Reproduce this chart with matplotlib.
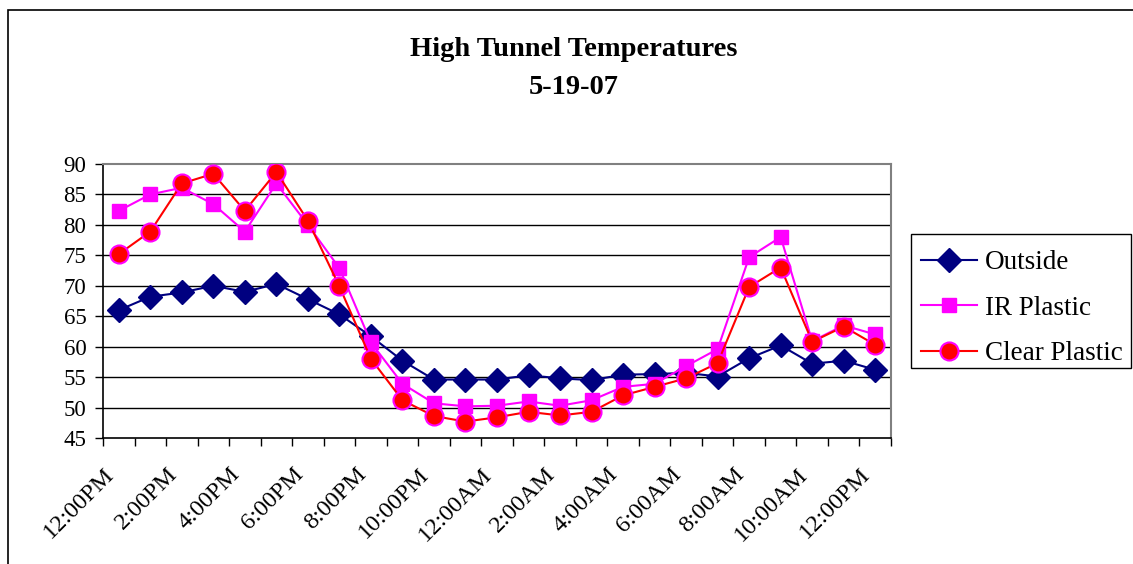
import matplotlib
matplotlib.use("Agg")
import matplotlib.pyplot as plt
from matplotlib.patches import Rectangle
import matplotlib.transforms as mtransforms
import numpy as np

categories = ["12:00PM", "1:00PM", "2:00PM", "3:00PM", "4:00PM", "5:00PM", "6:00PM",
              "7:00PM", "8:00PM", "9:00PM", "10:00PM", "11:00PM", "12:00AM", "1:00AM",
              "2:00AM", "3:00AM", "4:00AM", "5:00AM", "6:00AM", "7:00AM", "8:00AM",
              "9:00AM", "10:00AM", "11:00AM", "12:00PM"]
outside = [66.0, 68.2, 68.9, 70.0, 69.0, 70.3, 67.8, 65.3, 61.7, 57.7, 54.6, 54.6, 54.6,
           55.3, 54.8, 54.5, 55.4, 55.5, 55.7, 55.1, 58.1, 60.2, 57.2, 57.7, 56.2]
ir_plastic = [82.3, 85.0, 86.1, 83.4, 78.9, 86.8, 80.0, 72.9, 60.7, 53.9, 50.7, 50.2, 50.3,
              51.0, 50.3, 51.2, 53.4, 53.9, 56.8, 59.6, 74.7, 78.0, 60.9, 63.5, 62.0]
clear_plastic = [75.2, 78.9, 86.8, 88.4, 82.3, 88.7, 80.7, 69.9, 58.0, 51.2, 48.6, 47.7, 48.4,
                 49.3, 48.7, 49.3, 52.0, 53.4, 54.8, 57.3, 69.8, 73.0, 60.8, 63.3, 60.3]
yticks = [45, 50, 55, 60, 65, 70, 75, 80, 85, 90]

plt.rcParams['font.family'] = ['Liberation Serif', 'DejaVu Serif']

fig = plt.figure(figsize=(11.33, 5.64), dpi=100)
W, H = 1133, 564
# outer chart border
fig.patches.append(Rectangle((8 / W, -0.05), 1.2, 1 - 10 / H + 0.05, transform=fig.transFigure,
                             fill=False, edgecolor='black', linewidth=1.2))

ax = fig.add_axes([103 / W, 1 - 438 / H, (891 - 103) / W, (438 - 164) / H])
x = np.arange(len(categories))

ax.plot(x, outside, color='#000080', lw=1.5, marker='D', markersize=12,
        markerfacecolor='#000080', markeredgecolor='#000080', label='Outside', zorder=3)
ax.plot(x, ir_plastic, color='#FF00FF', lw=1.5, marker='s', markersize=10.5,
        markerfacecolor='#FF00FF', markeredgecolor='#FF00FF', label='IR Plastic', zorder=4)
ax.plot(x, clear_plastic, color='#FF0000', lw=1.5, marker='o', markersize=13,
        markerfacecolor='#FF0000', markeredgecolor='#FF00FF', markeredgewidth=1.5,
        label='Clear Plastic', zorder=5)

ax.set_xlim(-0.5, len(categories) - 0.5)
ax.set_ylim(45, 90)
ax.set_yticks(yticks)
ax.set_yticklabels([str(v) for v in yticks], fontsize=16.5)
for v in yticks[1:-1]:
    ax.axhline(v, color='black', lw=1.0, zorder=1)

ax.set_xticks(x[::2])
ax.set_xticklabels(categories[::2], rotation=45, ha='right', va='center',
                   rotation_mode='anchor', fontsize=17.5)
ax.tick_params(axis='x', which='major', length=0, pad=24)
offset = mtransforms.ScaledTranslation(-8 / 100, 0, fig.dpi_scale_trans)
for lab in ax.get_xticklabels():
    lab.set_transform(lab.get_transform() + offset)
ax.set_xticks(np.arange(-0.5, len(categories), 1), minor=True)
ax.tick_params(axis='x', which='minor', length=6, width=1, direction='out')
ax.tick_params(axis='y', length=6, width=1, direction='out', pad=6)

for s in ['left', 'bottom']:
    ax.spines[s].set_color('black')
    ax.spines[s].set_linewidth(1.2)
for s in ['top', 'right']:
    ax.spines[s].set_color('#808080')
    ax.spines[s].set_linewidth(1.5)

fig.text(574 / W, 1 - 56 / H, "High Tunnel Temperatures", ha='center', va='baseline',
         fontsize=20.5, fontweight='bold')
fig.text(574 / W, 1 - 94 / H, "5-19-07", ha='center', va='baseline',
         fontsize=20.5, fontweight='bold')

# legend box
fig.patches.append(Rectangle((911 / W, 1 - 368 / H), (1131 - 911) / W, (368 - 234) / H,
                             transform=fig.transFigure, fill=True, facecolor='white',
                             edgecolor='black', linewidth=1.0, zorder=1))
leg = fig.legend(loc='upper left', bbox_to_anchor=(921 / W, 1 - 250 / H), fontsize=19.5,
                 frameon=False, borderpad=0, handlelength=2.05, labelspacing=0.76,
                 handletextpad=0.3, borderaxespad=0)
leg.set_zorder(2)

fig.savefig("out.png", dpi=100)
